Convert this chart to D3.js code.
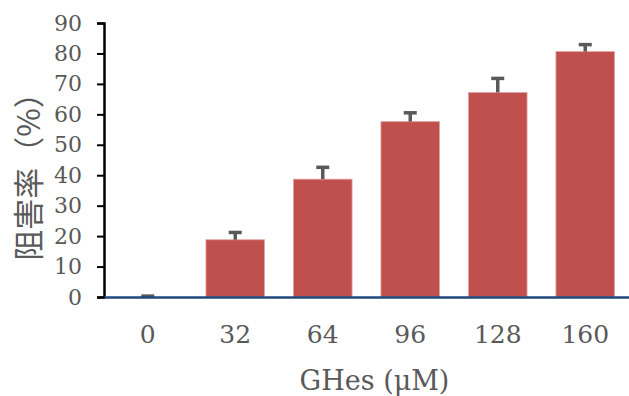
<!DOCTYPE html>
<html lang="ja">
<head>
<meta charset="UTF-8">
<title>阻害率</title>
<script src="https://cdn.jsdelivr.net/npm/d3@7"></script>
<style>
    body { margin: 0; background: #fff; }
    svg { display: block; }
</style>
</head>
<body>
<div id="chart"></div>
<script>
    // data
    var doses = ["0", "32", "64", "96", "128", "160"]
    var inhibition = [0, 18.8, 38.7, 57.6, 67.2, 80.6]
    var errors = [0.3, 2.4, 3.9, 2.9, 4.6, 2.3]
    var yTicks = [0, 10, 20, 30, 40, 50, 60, 70, 80, 90]

    var width = 629
    var height = 396
    var margin = { top: 23, right: 0, bottom: 99, left: 104 }

    var svg = d3.select('#chart').append('svg')
        .attr('width', width)
        .attr('height', height)

    var x = d3.scaleBand()
        .domain(doses)
        .range([margin.left, width - margin.right])
        .paddingInner(0.33)
        .paddingOuter(0.165)

    var y = d3.scaleLinear()
        .domain([0, 90])
        .range([height - margin.bottom, margin.top])

    var rows = doses.map((d, i) => ({ dose: d, value: inhibition[i], err: errors[i] }))

    // bars
    svg.append('g').selectAll('rect')
        .data(rows)
        .join('rect')
        .attr('x', d => x(d.dose))
        .attr('y', d => y(d.value))
        .attr('width', x.bandwidth())
        .attr('height', d => y(0) - y(d.value))
        .attr('fill', '#c0504d')
        .attr('stroke', '#e0a3a1')
        .attr('stroke-width', d => d.value > 0 ? 0.8 : 0)

    // error bars (upper only)
    var eb = svg.append('g').attr('stroke', '#595959').attr('stroke-width', 3.5)
    eb.selectAll('line.stem')
        .data(rows)
        .join('line')
        .attr('class', 'stem')
        .attr('x1', d => x(d.dose) + x.bandwidth() / 2)
        .attr('x2', d => x(d.dose) + x.bandwidth() / 2)
        .attr('y1', d => y(d.value))
        .attr('y2', d => y(d.value + d.err))
    eb.selectAll('line.cap')
        .data(rows)
        .join('line')
        .attr('class', 'cap')
        .attr('x1', d => x(d.dose) + x.bandwidth() / 2 - 6.5)
        .attr('x2', d => x(d.dose) + x.bandwidth() / 2 + 6.5)
        .attr('y1', d => y(d.value + d.err))
        .attr('y2', d => y(d.value + d.err))

    // y axis
    var yAxis = svg.append('g')
        .attr('transform', `translate(${margin.left},0)`)
        .call(d3.axisLeft(y).tickValues(yTicks).tickSize(7).tickPadding(15))
    yAxis.select('.domain').attr('stroke', '#000').attr('stroke-width', 2.5)
    yAxis.selectAll('.tick line').attr('stroke', '#000').attr('stroke-width', 2)
    yAxis.selectAll('.tick text')
        .attr('fill', '#595959')
        .style('font-family', '"DejaVu Serif", serif')
        .style('font-size', '22px')

    // x axis (baseline + labels)
    var xAxis = svg.append('g')
        .attr('transform', `translate(0,${y(0)})`)
        .call(d3.axisBottom(x).tickSize(0).tickPadding(28).tickSizeOuter(0))
    xAxis.select('.domain').attr('stroke', '#1f497d').attr('stroke-width', 2.5)
    xAxis.selectAll('.tick text')
        .attr('fill', '#595959')
        .style('font-family', '"DejaVu Serif", serif')
        .style('font-size', '25px')

    // axis titles
    svg.append('text')
        .attr('x', (margin.left + width) / 2 + 8)
        .attr('y', 390)
        .attr('text-anchor', 'middle')
        .attr('fill', '#595959')
        .style('font-family', '"DejaVu Serif", serif')
        .style('font-size', '27px')
        .text('GHes (μM)')

    svg.append('text')
        .attr('transform', `translate(40,${(y(0) + y(90)) / 2 + 9}) rotate(-90)`)
        .attr('text-anchor', 'middle')
        .attr('fill', '#595959')
        .style('font-family', '"Noto Sans CJK JP", sans-serif')
        .style('font-size', '31px')
        .text('阻害率（%）')
</script>
</body>
</html>
